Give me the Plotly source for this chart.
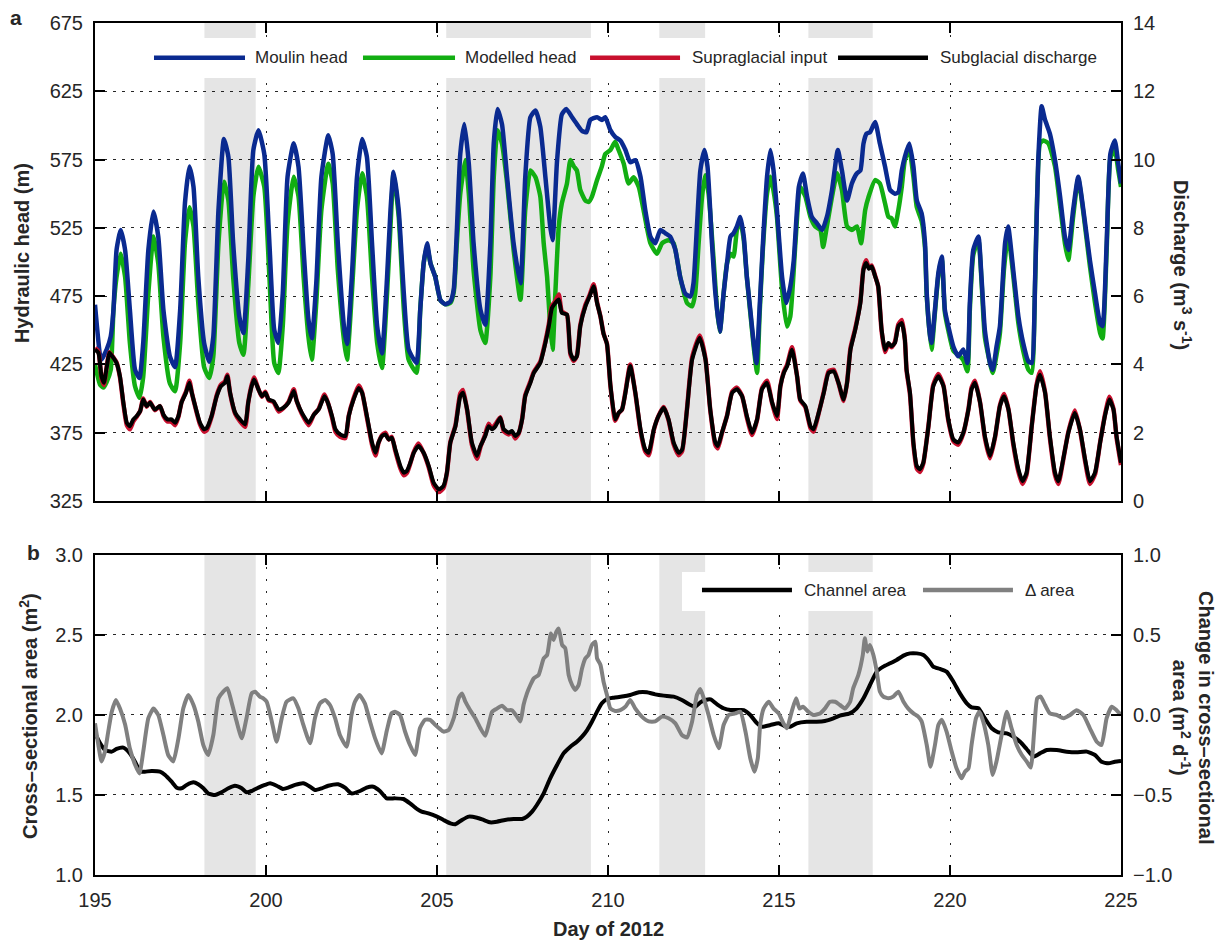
import plotly.graph_objects as go

# ---------------- data ----------------
moulin_days = [195.0, 195.15, 195.19, 195.34, 195.46, 195.54, 195.63, 195.75, 195.88, 196.02,
               196.17, 196.3, 196.41, 196.56, 196.71, 196.85, 197.0, 197.19, 197.34, 197.49,
               197.63, 197.76, 197.88, 198.02, 198.19, 198.34, 198.46, 198.61, 198.77, 198.9,
               199.04, 199.22, 199.34, 199.48, 199.63, 199.78, 199.95, 200.1, 200.24, 200.36,
               200.49, 200.63, 200.81, 200.95, 201.1, 201.24, 201.34, 201.47, 201.62, 201.82,
               201.95, 202.1, 202.29, 202.37, 202.51, 202.66, 202.81, 202.95, 203.1, 203.25,
               203.39, 203.54, 203.64, 203.73, 203.88, 204.03, 204.17, 204.4, 204.51, 204.61,
               204.71, 204.81, 204.95, 205.1, 205.24, 205.39, 205.49, 205.58, 205.68, 205.8,
               205.93, 206.07, 206.27, 206.41, 206.56, 206.66, 206.77, 206.9, 207.05, 207.24,
               207.44, 207.58, 207.73, 207.88, 208.02, 208.17, 208.31, 208.38, 208.51, 208.65,
               208.78, 208.95, 209.09, 209.24, 209.37, 209.48, 209.68, 209.82, 209.92, 210.07,
               210.21, 210.36, 210.51, 210.65, 210.8, 210.95, 211.09, 211.24, 211.38, 211.53,
               211.68, 211.82, 211.97, 212.11, 212.26, 212.41, 212.5, 212.6, 212.7, 212.82,
               212.91, 213.04, 213.14, 213.27, 213.38, 213.48, 213.58, 213.67, 213.77, 213.87,
               213.97, 214.06, 214.16, 214.26, 214.34, 214.43, 214.53, 214.65, 214.75, 214.84,
               214.94, 215.09, 215.21, 215.33, 215.43, 215.58, 215.7, 215.82, 215.96, 216.11,
               216.26, 216.4, 216.55, 216.72, 216.84, 216.99, 217.13, 217.28, 217.38, 217.47,
               217.56, 217.66, 217.81, 217.95, 218.1, 218.25, 218.39, 218.49, 218.59, 218.68,
               218.81, 218.93, 219.03, 219.17, 219.27, 219.32, 219.42, 219.46, 219.56, 219.66,
               219.76, 219.85, 219.95, 220.1, 220.24, 220.39, 220.51, 220.58, 220.68, 220.83,
               220.92, 221.02, 221.17, 221.25, 221.36, 221.46, 221.61, 221.7, 221.85, 222.0,
               222.14, 222.29, 222.39, 222.49, 222.58, 222.68, 222.78, 222.92, 223.07, 223.22,
               223.36, 223.46, 223.6, 223.75, 223.9, 224.09, 224.24, 224.39, 224.46, 224.58,
               224.69, 224.82, 224.92, 225.0]
moulin_head = [468.7, 431, 428.5, 435.8, 445.5, 465, 508.8, 523.4, 508.8, 465,
               421.2, 415, 440.7, 508.8, 537, 518.6, 465, 430.9, 423, 465,
               543, 570, 555, 489, 440.7, 427, 445.5, 538, 590, 577,
               513.7, 460, 448, 501, 582, 596.5, 579, 513.7, 450.4, 440.7,
               477, 562.4, 587, 569.7, 509, 458, 444, 484.5, 562.4, 592.8,
               579, 513.7, 450.4, 440, 489, 562, 590, 577, 513.7, 453,
               433, 489, 538, 566, 538, 477, 436, 426, 465, 499,
               513.7, 499, 489, 472, 469, 471, 480, 523, 579, 601,
               572, 513.7, 465, 454, 513.7, 587, 612, 601, 562, 513.7,
               484.5, 562, 606, 611, 599, 562, 526, 516, 574, 608,
               612, 606, 601, 596, 595, 604, 606, 604, 606, 596.5,
               591.6, 589, 582, 573, 574.6, 562.4, 538, 518.6, 513.7, 523.4,
               521, 518.6, 508.8, 489, 476.9, 474.7, 484.5, 526, 567, 582,
               569.7, 513.7, 477, 449, 477, 499, 518.6, 521, 526, 533,
               518.6, 489, 465, 440.7, 426, 465, 513.7, 562.4, 582, 567,
               538, 489, 469.9, 482, 501, 555, 564.8, 548, 533, 528.3,
               523.4, 533, 552.7, 582, 567, 545, 557.5, 565, 567, 586.7,
               594, 595, 602.6, 586.7, 570, 552.7, 550, 551, 567, 577,
               586.7, 570, 545, 535.6, 513.7, 477, 445.5, 440.7, 465, 492,
               504, 465, 453, 438, 431, 436, 426, 470, 508.8, 518.6,
               489, 450, 426, 421, 438, 453, 513.7, 526, 494, 460,
               440.7, 427.3, 426, 489, 574.6, 614, 604, 594, 574.6, 547.8,
               518.6, 508.8, 538, 562.4, 538, 501.5, 477, 455, 453, 513.7,
               579.4, 589, 572, 557.5]

model_days = [195.0, 195.15, 195.25, 195.34, 195.46, 195.54, 195.63, 195.75, 195.88, 196.02,
              196.17, 196.3, 196.41, 196.56, 196.71, 196.85, 197.0, 197.19, 197.34, 197.49,
              197.63, 197.76, 197.88, 198.02, 198.19, 198.34, 198.46, 198.61, 198.77, 198.9,
              199.04, 199.22, 199.34, 199.48, 199.63, 199.78, 199.95, 200.1, 200.24, 200.36,
              200.49, 200.63, 200.81, 200.95, 201.1, 201.24, 201.34, 201.47, 201.62, 201.82,
              201.95, 202.1, 202.29, 202.37, 202.51, 202.66, 202.81, 202.95, 203.1, 203.25,
              203.39, 203.54, 203.64, 203.73, 203.88, 204.03, 204.17, 204.4, 204.51, 204.61,
              204.71, 204.81, 204.95, 205.1, 205.24, 205.39, 205.49, 205.58, 205.68, 205.83,
              205.93, 206.07, 206.27, 206.41, 206.56, 206.66, 206.77, 206.9, 207.05, 207.24,
              207.44, 207.58, 207.73, 207.88, 208.02, 208.12, 208.22, 208.31, 208.38, 208.46,
              208.56, 208.65, 208.8, 208.9, 209.0, 209.09, 209.19, 209.34, 209.44, 209.53,
              209.68, 209.82, 209.92, 210.07, 210.21, 210.31, 210.46, 210.6, 210.75, 210.9,
              211.04, 211.24, 211.43, 211.58, 211.77, 211.92, 212.11, 212.31, 212.46, 212.55,
              212.65, 212.75, 212.84, 212.94, 213.09, 213.19, 213.27, 213.38, 213.48, 213.58,
              213.67, 213.77, 213.87, 213.97, 214.06, 214.16, 214.26, 214.36, 214.43, 214.53,
              214.65, 214.75, 214.84, 214.94, 215.09, 215.23, 215.33, 215.48, 215.62, 215.77,
              215.92, 216.06, 216.21, 216.29, 216.4, 216.55, 216.7, 216.84, 216.99, 217.13,
              217.28, 217.4, 217.52, 217.62, 217.81, 217.95, 218.1, 218.2, 218.29, 218.39,
              218.49, 218.59, 218.68, 218.81, 218.93, 219.03, 219.17, 219.27, 219.32, 219.46,
              219.56, 219.66, 219.76, 219.85, 219.95, 220.1, 220.29, 220.39, 220.51, 220.58,
              220.68, 220.83, 220.92, 221.02, 221.25, 221.36, 221.46, 221.58, 221.7, 221.85,
              222.0, 222.14, 222.29, 222.39, 222.49, 222.63, 222.73, 222.88, 223.07, 223.22,
              223.36, 223.46, 223.6, 223.75, 223.9, 224.09, 224.24, 224.39, 224.46, 224.58,
              224.69, 224.82, 224.92, 225.0]
modelled_head = [425, 410, 408, 412, 421, 465, 489, 506, 489, 440.7,
                 409, 400.5, 416, 477, 518.6, 499, 445.5, 411, 405.3, 440.7,
                 513.7, 540, 526, 470, 423, 415, 431, 513.7, 558.7, 545,
                 489, 440.7, 432, 482, 548, 569.7, 555, 489, 426, 418.7,
                 453, 528, 562.4, 548, 489, 445.5, 428.5, 470, 538, 572,
                 557.5, 494, 440.7, 428.5, 477, 538, 565, 548, 489, 440.7,
                 422.4, 477, 526, 565, 533, 465, 428.5, 418.8, 465, 499,
                 511, 499, 489, 472, 469, 470, 478, 513.7, 550, 574.6,
                 550, 494, 450, 440.7, 489, 562, 596.5, 586.7, 557.5, 508.8,
                 472.3, 538, 567, 562, 548, 513.7, 489, 453, 435.8, 477,
                 526, 543, 557.5, 574.6, 570, 567, 552.7, 545, 544, 547.8,
                 560, 570, 579, 582, 588, 582, 572, 557.5, 562, 555,
                 538, 513.7, 506, 513.7, 516, 513.7, 489, 470, 467.5, 477,
                 513.7, 547.8, 563.6, 550, 501, 465, 449, 477, 499, 506,
                 504, 523.4, 530, 516, 489, 463, 438, 418.8, 460, 510,
                 550, 562.4, 552, 533, 480, 452.8, 460, 513.7, 555, 548,
                 533, 526, 523.4, 511, 526, 547.8, 565, 552.7, 526, 523.4,
                 526, 513.7, 538, 547.8, 560, 557.5, 543, 533, 532, 526,
                 538, 555, 574.6, 582, 562.4, 540, 530, 510, 475, 435.8,
                 463, 490, 502, 463, 450, 435, 431, 428, 420, 465,
                 505, 516, 487, 445, 418.8, 432, 448, 495, 520, 490,
                 455, 435, 421.2, 418.8, 485, 586.7, 589, 586.7, 570, 541,
                 513.7, 501.5, 533, 561, 536, 497, 470, 448, 444, 508,
                 576, 582, 567, 555]

discharge_days = [195.0, 195.1, 195.19, 195.26, 195.34, 195.42, 195.54, 195.63, 195.73, 195.83,
                  195.93, 196.02, 196.12, 196.22, 196.32, 196.41, 196.51, 196.61, 196.75, 196.9,
                  197.0, 197.12, 197.24, 197.34, 197.44, 197.53, 197.66, 197.76, 197.83, 197.93,
                  198.07, 198.19, 198.27, 198.41, 198.56, 198.68, 198.8, 198.87, 198.95, 199.1,
                  199.24, 199.39, 199.48, 199.58, 199.65, 199.78, 199.88, 199.98, 200.08, 200.22,
                  200.37, 200.51, 200.66, 200.81, 200.9, 201.05, 201.25, 201.4, 201.54, 201.71,
                  201.81, 201.93, 202.03, 202.17, 202.32, 202.42, 202.56, 202.71, 202.81, 202.95,
                  203.1, 203.2, 203.29, 203.39, 203.49, 203.59, 203.68, 203.78, 203.93, 204.03,
                  204.12, 204.22, 204.32, 204.46, 204.61, 204.76, 204.9, 205.05, 205.19, 205.29,
                  205.39, 205.54, 205.68, 205.76, 205.88, 206.02, 206.17, 206.27, 206.41, 206.51,
                  206.61, 206.71, 206.85, 206.95, 207.1, 207.19, 207.29, 207.39, 207.49, 207.58,
                  207.73, 207.83, 208.02, 208.17, 208.27, 208.36, 208.46, 208.56, 208.65, 208.8,
                  208.9, 209.0, 209.09, 209.19, 209.34, 209.46, 209.58, 209.68, 209.78, 209.87,
                  209.97, 210.07, 210.21, 210.31, 210.41, 210.51, 210.65, 210.8, 210.95, 211.09,
                  211.19, 211.34, 211.48, 211.63, 211.77, 211.92, 212.07, 212.17, 212.31, 212.46,
                  212.68, 212.85, 212.99, 213.14, 213.21, 213.33, 213.48, 213.63, 213.77, 213.92,
                  214.06, 214.21, 214.36, 214.5, 214.65, 214.8, 214.94, 215.04, 215.14, 215.24,
                  215.38, 215.53, 215.62, 215.77, 215.92, 216.01, 216.16, 216.31, 216.45, 216.6,
                  216.74, 216.89, 216.99, 217.09, 217.23, 217.38, 217.47, 217.55, 217.63, 217.71,
                  217.81, 217.9, 218.0, 218.1, 218.2, 218.29, 218.39, 218.49, 218.59, 218.68,
                  218.73, 218.83, 218.93, 219.03, 219.12, 219.22, 219.37, 219.51, 219.66, 219.81,
                  219.95, 220.1, 220.24, 220.39, 220.54, 220.63, 220.73, 220.88, 221.02, 221.17,
                  221.32, 221.46, 221.58, 221.71, 221.85, 222.0, 222.12, 222.24, 222.39, 222.53,
                  222.63, 222.78, 222.92, 223.07, 223.17, 223.31, 223.46, 223.65, 223.8, 223.95,
                  224.09, 224.24, 224.39, 224.53, 224.66, 224.78, 224.87, 225.0]
subglacial_discharge = [4.43, 4.34, 3.65, 3.46, 3.9, 4.34, 4.19, 4.04, 3.65, 2.88,
                        2.29, 2.19, 2.39, 2.49, 2.63, 2.97, 2.78, 2.88, 2.68, 2.78,
                        2.53, 2.39, 2.39, 2.29, 2.49, 2.88, 3.17, 3.46, 3.17, 2.78,
                        2.29, 2.1, 2.14, 2.49, 3.07, 3.36, 3.46, 3.65, 3.17, 2.58,
                        2.39, 2.24, 2.88, 3.36, 3.56, 3.27, 3.07, 3.17, 2.97, 2.92,
                        2.68, 2.73, 2.88, 3.22, 2.92, 2.58, 2.29, 2.53, 2.68, 3.07,
                        2.88, 2.49, 2.1, 1.95, 1.9, 2.49, 2.97, 3.31, 3.17, 2.49,
                        1.71, 1.41, 1.71, 1.9, 1.95, 1.8, 1.85, 1.51, 1.02, 0.83,
                        0.88, 1.12, 1.41, 1.61, 1.41, 1.02, 0.54, 0.34, 0.44, 0.83,
                        1.71, 2.19, 3.07, 3.17, 2.68, 1.71, 1.32, 1.61, 1.9, 2.19,
                        2.1, 2.19, 2.44, 2.1, 2.0, 2.05, 1.9, 2.0, 2.39, 3.07,
                        3.46, 3.75, 4.04, 4.63, 5.12, 5.65, 5.8, 5.9, 5.51, 5.46,
                        4.34, 4.14, 4.24, 5.12, 5.7, 5.99, 6.29, 5.8, 5.4, 4.9,
                        4.6, 3.4, 2.39, 2.58, 2.68, 3.17, 3.95, 3.17, 2.1, 1.51,
                        1.41, 2.1, 2.49, 2.73, 2.39, 1.71, 1.41, 1.51, 2.68, 4.14,
                        4.78, 4.14, 2.68, 1.71, 1.61, 2.0, 2.49, 3.17, 3.27, 3.07,
                        2.49, 2.0, 2.39, 3.27, 3.46, 2.88, 2.49, 3.36, 3.75, 3.95,
                        4.43, 3.65, 2.97, 2.78, 2.19, 2.1, 2.58, 3.17, 3.75, 3.8,
                        3.46, 2.97, 3.46, 4.43, 5.02, 5.8, 6.77, 6.97, 6.8, 6.87,
                        6.58, 6.29, 5.02, 4.43, 4.63, 4.53, 4.63, 5.12, 5.21, 4.73,
                        3.85, 3.17, 1.71, 1.02, 0.93, 1.12, 2.19, 3.36, 3.65, 3.36,
                        2.39, 1.8, 1.71, 2.0, 2.68, 3.27, 3.46, 2.88, 1.9, 1.32,
                        1.9, 2.78, 3.07, 2.68, 1.71, 0.93, 0.58, 0.83, 2.19, 3.36,
                        3.7, 3.17, 1.9, 0.83, 0.58, 1.22, 2.0, 2.58, 2.1, 1.22,
                        0.58, 0.83, 1.71, 2.49, 2.97, 2.68, 1.9, 1.12]
supraglacial_input = [4.48, 4.38, 3.6, 3.4, 3.92, 4.36, 4.2, 4.06, 3.62, 2.84,
                      2.22, 2.1, 2.33, 2.47, 2.63, 3.0, 2.76, 2.9, 2.66, 2.78,
                      2.5, 2.33, 2.32, 2.22, 2.47, 2.9, 3.2, 3.52, 3.18, 2.76,
                      2.24, 2.03, 2.08, 2.47, 3.1, 3.4, 3.5, 3.7, 3.15, 2.55,
                      2.33, 2.17, 2.88, 3.4, 3.62, 3.27, 3.05, 3.2, 2.95, 2.9,
                      2.62, 2.72, 2.9, 3.27, 2.92, 2.55, 2.22, 2.53, 2.7, 3.12,
                      2.88, 2.45, 2.03, 1.88, 1.84, 2.5, 3.0, 3.38, 3.18, 2.45,
                      1.65, 1.33, 1.7, 1.92, 2.0, 1.8, 1.88, 1.47, 0.95, 0.75,
                      0.82, 1.1, 1.43, 1.68, 1.4, 0.98, 0.47, 0.26, 0.38, 0.82,
                      1.72, 2.22, 3.15, 3.25, 2.66, 1.65, 1.24, 1.58, 1.95, 2.26,
                      2.12, 2.25, 2.45, 2.05, 1.95, 2.02, 1.83, 1.98, 2.42, 3.1,
                      3.5, 3.78, 4.08, 4.68, 5.18, 5.72, 5.85, 6.05, 5.55, 5.45,
                      4.3, 4.1, 4.25, 5.15, 5.75, 6.02, 6.35, 5.82, 5.4, 4.9,
                      4.6, 3.38, 2.35, 2.57, 2.68, 3.2, 4.0, 3.15, 2.05, 1.45,
                      1.34, 2.08, 2.5, 2.75, 2.37, 1.66, 1.34, 1.47, 2.7, 4.2,
                      4.85, 4.18, 2.66, 1.64, 1.54, 1.98, 2.5, 3.2, 3.32, 3.08,
                      2.45, 1.93, 2.38, 3.3, 3.52, 2.86, 2.4, 3.36, 3.78, 4.0,
                      4.5, 3.64, 2.95, 2.75, 2.14, 2.03, 2.57, 3.2, 3.8, 3.84,
                      3.45, 2.93, 3.47, 4.48, 5.05, 5.85, 6.82, 7.05, 6.82, 6.9,
                      6.6, 6.28, 4.98, 4.36, 4.6, 4.5, 4.66, 5.17, 5.3, 4.74,
                      3.82, 3.12, 1.66, 0.95, 0.85, 1.1, 2.2, 3.4, 3.72, 3.38,
                      2.36, 1.75, 1.65, 1.98, 2.7, 3.32, 3.52, 2.88, 1.85, 1.25,
                      1.88, 2.8, 3.13, 2.68, 1.66, 0.86, 0.5, 0.78, 2.2, 3.4,
                      3.8, 3.18, 1.85, 0.76, 0.5, 1.2, 2.02, 2.65, 2.08, 1.17,
                      0.5, 0.78, 1.72, 2.52, 3.05, 2.7, 1.86, 1.05]

area_days = [195.0, 195.15, 195.29, 195.49, 195.63, 195.83, 196.02, 196.17, 196.32, 196.46,
             196.66, 196.9, 197.05, 197.24, 197.39, 197.53, 197.68, 197.88, 198.02, 198.17,
             198.31, 198.51, 198.7, 198.9, 199.09, 199.29, 199.43, 199.58, 199.78, 199.97,
             200.12, 200.31, 200.49, 200.65, 200.85, 201.09, 201.29, 201.43, 201.63, 201.82,
             202.11, 202.31, 202.5, 202.75, 202.94, 203.14, 203.33, 203.53, 203.77, 204.02,
             204.21, 204.41, 204.55, 204.75, 205.0, 205.19, 205.39, 205.54, 205.73, 205.93,
             206.17, 206.36, 206.56, 206.75, 206.99, 207.24, 207.49, 207.63, 207.78, 207.92,
             208.12, 208.31, 208.51, 208.7, 208.9, 209.09, 209.24, 209.39, 209.53, 209.68,
             209.82, 209.97, 210.17, 210.41, 210.65, 210.9, 211.14, 211.38, 211.63, 211.92,
             212.16, 212.41, 212.55, 212.7, 212.85, 213.0, 213.19, 213.38, 213.58, 213.77,
             213.97, 214.16, 214.36, 214.5, 214.75, 214.99, 215.18, 215.32, 215.52, 215.81,
             216.1, 216.34, 216.59, 216.78, 217.07, 217.27, 217.47, 217.66, 217.86, 218.05,
             218.25, 218.44, 218.64, 218.83, 219.03, 219.22, 219.37, 219.51, 219.71, 219.9,
             220.1, 220.29, 220.49, 220.63, 220.83, 221.02, 221.22, 221.41, 221.66, 221.85,
             222.05, 222.24, 222.44, 222.63, 222.83, 223.12, 223.41, 223.7, 224.0, 224.24,
             224.43, 224.63, 224.82, 225.0]
channel_area = [1.885, 1.823, 1.781, 1.771, 1.788, 1.796, 1.76, 1.708, 1.646, 1.646,
                1.65, 1.646, 1.625, 1.583, 1.546, 1.542, 1.563, 1.579, 1.567, 1.542,
                1.51, 1.5, 1.517, 1.542, 1.558, 1.542, 1.517, 1.525, 1.546, 1.563,
                1.573, 1.558, 1.538, 1.546, 1.563, 1.573, 1.552, 1.531, 1.542, 1.558,
                1.567, 1.546, 1.51, 1.525, 1.546, 1.552, 1.525, 1.479, 1.479, 1.475,
                1.448, 1.413, 1.396, 1.385, 1.365, 1.344, 1.323, 1.317, 1.344, 1.365,
                1.358, 1.344, 1.329, 1.333, 1.344, 1.35, 1.35, 1.365, 1.396, 1.4375,
                1.51, 1.604, 1.6875, 1.76, 1.802, 1.833, 1.865, 1.906, 1.958, 2.021,
                2.073, 2.1, 2.108, 2.115, 2.125, 2.142, 2.142, 2.129, 2.121, 2.115,
                2.094, 2.0625, 2.052, 2.079, 2.094, 2.098, 2.067, 2.042, 2.031, 2.031,
                2.031, 2.0, 1.948, 1.927, 1.9375, 1.948, 1.93, 1.927, 1.948, 1.958,
                1.958, 1.9625, 1.979, 1.996, 2.01, 2.042, 2.104, 2.1875, 2.271, 2.302,
                2.323, 2.344, 2.371, 2.385, 2.385, 2.375, 2.344, 2.302, 2.2875, 2.271,
                2.208, 2.135, 2.073, 2.048, 2.042, 1.979, 1.917, 1.892, 1.885, 1.865,
                1.833, 1.7875, 1.74, 1.76, 1.781, 1.781, 1.771, 1.767, 1.771, 1.75,
                1.708, 1.698, 1.708, 1.7125]

delta_days = [195.0, 195.1, 195.19, 195.29, 195.39, 195.49, 195.61, 195.73, 195.88, 196.02,
              196.17, 196.3, 196.41, 196.56, 196.71, 196.85, 197.0, 197.14, 197.29, 197.44,
              197.58, 197.73, 197.88, 198.02, 198.17, 198.31, 198.46, 198.61, 198.75, 198.87,
              198.99, 199.14, 199.29, 199.43, 199.58, 199.68, 199.82, 199.92, 200.02, 200.17,
              200.31, 200.46, 200.6, 200.8, 200.95, 201.09, 201.29, 201.43, 201.58, 201.73,
              201.87, 202.02, 202.16, 202.36, 202.5, 202.6, 202.73, 202.89, 203.04, 203.19,
              203.38, 203.53, 203.67, 203.77, 203.92, 204.06, 204.21, 204.36, 204.5, 204.65,
              204.8, 204.94, 205.1, 205.19, 205.34, 205.49, 205.63, 205.73, 205.83, 205.97,
              206.12, 206.27, 206.41, 206.51, 206.61, 206.75, 206.9, 207.05, 207.19, 207.34,
              207.44, 207.53, 207.63, 207.73, 207.83, 207.97, 208.12, 208.22, 208.33, 208.41,
              208.49, 208.56, 208.66, 208.75, 208.85, 208.95, 209.04, 209.14, 209.24, 209.34,
              209.43, 209.53, 209.63, 209.68, 209.78, 209.87, 209.97, 210.07, 210.21, 210.36,
              210.51, 210.65, 210.8, 210.99, 211.19, 211.38, 211.58, 211.77, 211.97, 212.16,
              212.31, 212.46, 212.6, 212.7, 212.8, 212.94, 213.09, 213.24, 213.38, 213.53,
              213.72, 213.87, 214.02, 214.16, 214.28, 214.38, 214.45, 214.55, 214.7, 214.84,
              214.99, 215.13, 215.23, 215.37, 215.5, 215.6, 215.7, 215.86, 216.0, 216.2,
              216.34, 216.49, 216.64, 216.78, 216.93, 217.08, 217.17, 217.32, 217.45, 217.51,
              217.58, 217.66, 217.76, 217.86, 217.95, 218.05, 218.2, 218.34, 218.49, 218.64,
              218.78, 218.93, 219.07, 219.17, 219.32, 219.43, 219.56, 219.66, 219.76, 219.9,
              220.05, 220.19, 220.34, 220.44, 220.54, 220.63, 220.76, 220.86, 220.97, 221.12,
              221.25, 221.36, 221.51, 221.66, 221.8, 221.95, 222.1, 222.24, 222.36, 222.46,
              222.55, 222.65, 222.78, 222.92, 223.12, 223.32, 223.51, 223.7, 223.9, 224.09,
              224.29, 224.43, 224.58, 224.73, 224.87, 225.0]
delta_area = [-0.052, -0.19, -0.29, -0.23, -0.10, 0.02, 0.094, 0.04, -0.06, -0.21,
              -0.31, -0.365, -0.23, -0.02, 0.04, 0.0, -0.125, -0.25, -0.29, -0.146,
              0.04, 0.125, 0.0625, -0.04, -0.19, -0.25, -0.125, 0.104, 0.146, 0.167,
              0.083, -0.04, -0.146, -0.02, 0.135, 0.146, 0.115, 0.104, 0.083, -0.04,
              -0.167, -0.02, 0.083, 0.104, 0.04, -0.06, -0.177, -0.02, 0.073, 0.094,
              0.0625, -0.02, -0.125, -0.198, 0.0, 0.083, 0.125, 0.073, -0.04, -0.146,
              -0.24, -0.10, 0.01, 0.02, 0.0, -0.10, -0.1875, -0.25, -0.083, -0.03,
              -0.03, -0.06, -0.09, -0.104, -0.094, -0.02, 0.104, 0.135, 0.083, 0.03,
              -0.02, -0.083, -0.13, -0.06, 0.02, 0.04, 0.058, 0.03, 0.03, -0.01,
              -0.04, 0.0625, 0.135, 0.1875, 0.229, 0.25, 0.354, 0.375, 0.51, 0.469,
              0.52, 0.54, 0.4375, 0.417, 0.25, 0.1875, 0.156, 0.1875, 0.29, 0.354,
              0.375, 0.4375, 0.458, 0.354, 0.3125, 0.208, 0.125, 0.04, 0.025, 0.03,
              0.052, 0.094, 0.04, -0.01, -0.04, -0.04, -0.01, -0.02, -0.052, -0.125,
              -0.14, -0.04, 0.125, 0.1625, 0.104, 0.0, -0.125, -0.208, -0.0625, 0.0,
              0.01, 0.02, -0.104, -0.27, -0.354, -0.27, -0.0625, 0.04, 0.083, 0.04,
              0.01, -0.052, -0.083, 0.02, 0.104, 0.04, 0.052, 0.02, 0.0, 0.01,
              0.04, 0.083, 0.083, 0.0625, 0.04, 0.083, 0.167, 0.25, 0.375, 0.479,
              0.396, 0.4375, 0.375, 0.27, 0.146, 0.115, 0.104, 0.115, 0.146, 0.083,
              0.04, 0.01, -0.01, -0.04, -0.1875, -0.323, -0.1875, -0.0625, -0.03, -0.104,
              -0.229, -0.333, -0.396, -0.354, -0.333, -0.1875, -0.02, 0.02, -0.04, -0.1875,
              -0.375, -0.29, -0.125, 0.02, -0.083, -0.1875, -0.25, -0.29, -0.329, -0.104,
              0.104, 0.115, 0.0625, 0.01, 0.0, -0.02, 0.0, 0.03, 0.0, -0.083,
              -0.167, -0.1875, -0.02, 0.052, 0.03, 0.0]

shade_start = [198.2, 205.27, 211.5, 215.86]
shade_end = [199.7, 209.5, 212.84, 217.74]

day_ticks = [195, 200, 205, 210, 215, 220, 225]
head_ticks = [325, 375, 425, 475, 525, 575, 625, 675]
discharge_ticks = [0, 2, 4, 6, 8, 10, 12, 14]
area_ticks = [1.0, 1.5, 2.0, 2.5, 3.0]
delta_ticks = [-1.0, -0.5, 0.0, 0.5, 1.0]

# ---------------- styling ----------------
BLUE = "#0a2a90"
GREEN = "#12ae12"
RED = "#c8102e"
BLACK = "#000000"
GRAY = "#808080"
SHADE = "#e5e5e5"
FONT = "Liberation Sans, Arial, Helvetica, sans-serif"
TXT = "#262626"
GRID = "rgba(0,0,0,0.85)"


def line(color, width):
    return dict(color=color, width=width, shape="spline", smoothing=0.5)


fig = go.Figure()
fig.add_trace(go.Scatter(x=model_days, y=modelled_head, name="Modelled head", mode="lines",
                         line=line(GREEN, 4.5), xaxis="x", yaxis="y", hoverinfo="skip"))
fig.add_trace(go.Scatter(x=moulin_days, y=moulin_head, name="Moulin head", mode="lines",
                         line=line(BLUE, 4.5), xaxis="x", yaxis="y", hoverinfo="skip"))
fig.add_trace(go.Scatter(x=discharge_days, y=supraglacial_input, name="Supraglacial input", mode="lines",
                         line=line(RED, 4.5), xaxis="x", yaxis="y2", hoverinfo="skip"))
fig.add_trace(go.Scatter(x=discharge_days, y=subglacial_discharge, name="Subglacial discharge", mode="lines",
                         line=line(BLACK, 4), xaxis="x", yaxis="y2", hoverinfo="skip"))
fig.add_trace(go.Scatter(x=area_days, y=channel_area, name="Channel area", mode="lines",
                         line=line(BLACK, 4), xaxis="x2", yaxis="y3", hoverinfo="skip"))
fig.add_trace(go.Scatter(x=delta_days, y=delta_area, name="\u0394 area", mode="lines",
                         line=line(GRAY, 4), xaxis="x2", yaxis="y4", hoverinfo="skip"))


def ax(**kw):
    d = dict(showline=True, linecolor="black", linewidth=2, ticks="inside", ticklen=10,
             tickwidth=1.5, tickcolor="black", zeroline=False, showgrid=False,
             tickfont=dict(family=FONT, size=20, color=TXT), ticklabelstandoff=6)
    d.update(kw)
    return d


xgrid = dict(showgrid=True, gridcolor=GRID, gridwidth=1, griddash="2px,10px")
ygrid = dict(showgrid=True, gridcolor=GRID, gridwidth=1, griddash="3px,6px")

TOP = [0.439, 1.0]
BOT = [0.0, 0.3756]

fig.update_layout(
    width=1221, height=942,
    margin=dict(l=95, r=100, t=23, b=67),
    paper_bgcolor="white", plot_bgcolor="white",
    showlegend=False,
    font=dict(family=FONT, size=20, color=TXT),
    xaxis=ax(domain=[0, 1], anchor="y", range=[195, 225], tickvals=day_ticks,
             showticklabels=False, mirror="ticks", **xgrid),
    yaxis=ax(domain=TOP, anchor="x", range=[325, 675], tickvals=head_ticks, **ygrid),
    yaxis2=ax(overlaying="y", side="right", anchor="x", range=[0, 14], tickvals=discharge_ticks),
    xaxis2=ax(domain=[0, 1], anchor="y3", range=[195, 225], tickvals=day_ticks,
              mirror="ticks", **xgrid),
    yaxis3=ax(domain=BOT, anchor="x2", range=[1, 3], tickvals=area_ticks, tickformat=".1f", **ygrid),
    yaxis4=ax(overlaying="y3", side="right", anchor="x2", range=[-1, 1], tickvals=delta_ticks,
              tickformat=".1f"),
)

shapes = []
for s, e in zip(shade_start, shade_end):
    shapes.append(dict(type="rect", xref="x", yref="y domain", x0=s, x1=e, y0=0, y1=1,
                       fillcolor=SHADE, line=dict(width=0), layer="below"))
    shapes.append(dict(type="rect", xref="x2", yref="y3 domain", x0=s, x1=e, y0=0, y1=1,
                       fillcolor=SHADE, line=dict(width=0), layer="below"))

# legend boxes (white background hiding shading and grid)
shapes.append(dict(type="rect", xref="paper", yref="paper", x0=0.0439, x1=0.9844, y0=0.9354, y1=0.9824,
                   fillcolor="white", line=dict(width=0), layer="above"))
shapes.append(dict(type="rect", xref="paper", yref="paper", x0=0.5721, x1=0.9698, y0=0.3099, y1=0.3556,
                   fillcolor="white", line=dict(width=0), layer="above"))

top_leg = [("Moulin head", BLUE, 0.0575, 0.1462, 0.1540),
           ("Modelled head", GREEN, 0.2612, 0.3509, 0.3587),
           ("Supraglacial input", RED, 0.4825, 0.5702, 0.5799),
           ("Subglacial discharge", BLACK, 0.7242, 0.8119, 0.8216)]
bot_leg = [("Channel area", BLACK, 0.5916, 0.6793, 0.6891),
           ("\u0394 area", GRAY, 0.8070, 0.8947, 0.9045)]

annotations = []
for label, color, x0, x1, xt in top_leg:
    shapes.append(dict(type="line", xref="paper", yref="paper", x0=x0, x1=x1, y0=0.9593, y1=0.9593,
                       line=dict(color=color, width=4.5), layer="above"))
    annotations.append(dict(text=label, xref="paper", yref="paper", x=xt, y=0.9593, xanchor="left",
                            yanchor="middle", showarrow=False, font=dict(family=FONT, size=17, color=TXT)))
for label, color, x0, x1, xt in bot_leg:
    shapes.append(dict(type="line", xref="paper", yref="paper", x0=x0, x1=x1, y0=0.3345, y1=0.3345,
                       line=dict(color=color, width=4.5), layer="above"))
    annotations.append(dict(text=label, xref="paper", yref="paper", x=xt, y=0.3345, xanchor="left",
                            yanchor="middle", showarrow=False, font=dict(family=FONT, size=17, color=TXT)))

title_font = dict(family=FONT, size=20, color=TXT)
bold = lambda t: "<b>" + t + "</b>"
annotations += [
    dict(text=bold("Hydraulic head (m)"), xref="paper", yref="paper", x=-0.0711, y=0.730,
         textangle=-90, showarrow=False, xanchor="center", yanchor="middle", font=title_font),
    dict(text=bold("Discharge (m<sup>3</sup> s<sup>-1</sup>)"), xref="paper", yref="paper", x=1.0595, y=0.716,
         textangle=90, showarrow=False, xanchor="center", yanchor="middle", font=title_font),
    dict(text=bold("Cross\u2013sectional area (m<sup>2</sup>)"), xref="paper", yref="paper", x=-0.0653,
         y=0.1866, textangle=-90, showarrow=False, xanchor="center", yanchor="middle", font=title_font),
    dict(text=bold("Change in cross\u2013sectional<br>area (m<sup>2</sup> d<sup>-1</sup>)"), xref="paper",
         yref="paper", x=1.0702, y=0.1854, textangle=90, showarrow=False, xanchor="center",
         yanchor="middle", font=title_font),
    dict(text=bold("Day of 2012"), xref="paper", yref="paper", x=0.5, y=-0.0634, showarrow=False,
         xanchor="center", yanchor="middle", font=title_font),
    dict(text=bold("a"), xref="paper", yref="paper", x=-0.077, y=1.0059, showarrow=False,
         xanchor="center", yanchor="middle", font=dict(family=FONT, size=21, color=TXT)),
    dict(text=bold("b"), xref="paper", yref="paper", x=-0.0604, y=0.3791, showarrow=False,
         xanchor="center", yanchor="middle", font=dict(family=FONT, size=21, color=TXT)),
]

fig.update_layout(shapes=shapes, annotations=annotations)
fig.write_html("out.html")
